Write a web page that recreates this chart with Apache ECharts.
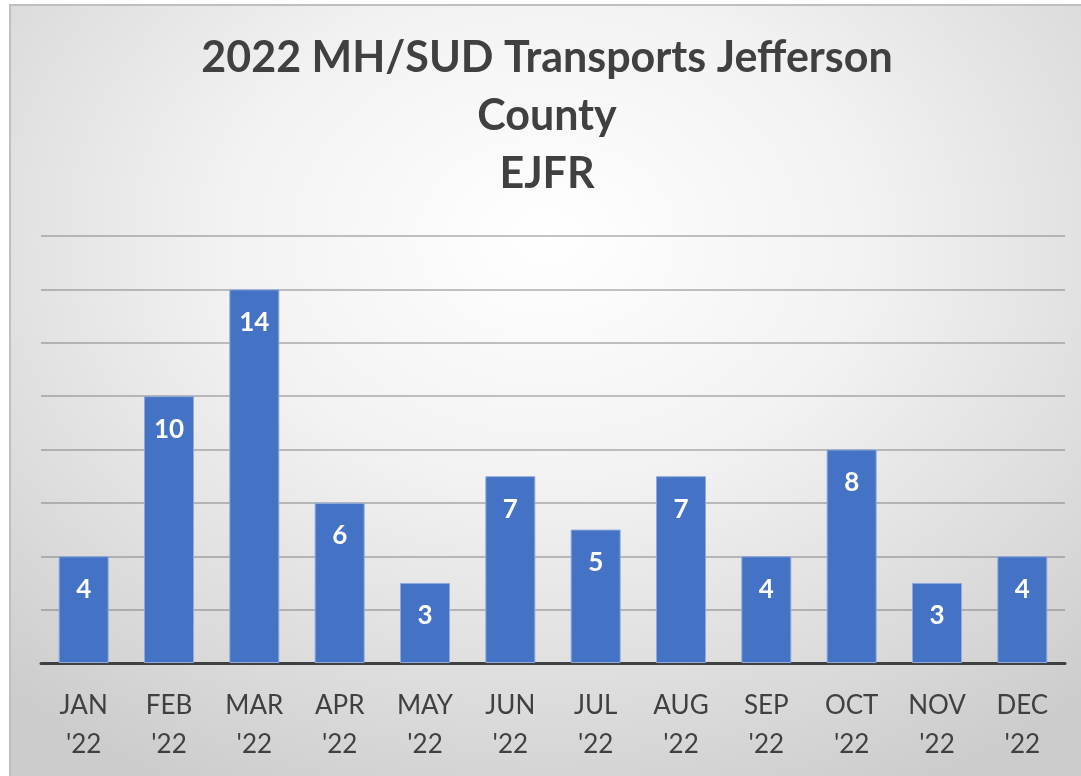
<!DOCTYPE html>
<html>
<head>
<meta charset="utf-8">
<script src="https://cdn.jsdelivr.net/npm/echarts@6/dist/echarts.min.js"></script>
<style>
  html, body { margin: 0; padding: 0; background: #ffffff; }
  #frame {
    position: absolute; left: 9px; top: 4px; width: 1072px; height: 772px;
    border: 2px solid #bfbfbf; border-right: none; border-bottom: none;
    background: radial-gradient(ellipse 75% 80% at 50% 30%, #ffffff 0%, #f2f2f2 40%, #d9d9d9 80%, #cccccc 100%);
  }
  #main { width: 100%; height: 100%; }
</style>
</head>
<body>
<div id="frame"><div id="main"></div></div>
<script>
const months = ["JAN\n'22", "FEB\n'22", "MAR\n'22", "APR\n'22", "MAY\n'22", "JUN\n'22",
                "JUL\n'22", "AUG\n'22", "SEP\n'22", "OCT\n'22", "NOV\n'22", "DEC\n'22"];
const transports = [4, 10, 14, 6, 3, 7, 5, 7, 4, 8, 3, 4];
const titleText = '2022 MH/SUD Transports Jefferson\nCounty\nEJFR';

const chart = echarts.init(document.getElementById('main'));

const option = {
    backgroundColor: 'transparent',
    title: {
        text: titleText,
        left: 'center',
        top: 18,
        textStyle: {
            fontFamily: 'Lato',
            fontSize: 43,
            fontWeight: 'bold',
            color: '#404040',
            lineHeight: 58
        }
    },
    grid: {
        left: 30,
        right: 18,
        top: 230,
        bottom: 115
    },
    xAxis: {
        type: 'category',
        data: months,
        axisLine: { lineStyle: { color: '#404040', width: 3 } },
        axisTick: { show: false },
        axisLabel: {
            fontFamily: 'Lato',
            fontSize: 26,
            color: '#404040',
            lineHeight: 39,
            margin: 23,
            interval: 0
        }
    },
    yAxis: {
        type: 'value',
        min: 0,
        max: 16,
        interval: 2,
        axisLabel: { show: false },
        axisLine: { show: false },
        axisTick: { show: false },
        splitLine: { lineStyle: { color: 'rgba(110,110,110,0.55)', width: 1.5 } }
    },
    series: [{
        type: 'bar',
        data: transports,
        barWidth: 50,
        itemStyle: {
            color: '#4472c4',
            borderColor: '#8eaadb',
            borderWidth: 1
        },
        label: {
            show: true,
            position: 'insideTop',
            distance: 20,
            fontFamily: 'Lato',
            fontSize: 26,
            fontWeight: 'bold',
            color: '#ffffff'
        }
    }]
};

chart.setOption(option);
</script>
</body>
</html>
